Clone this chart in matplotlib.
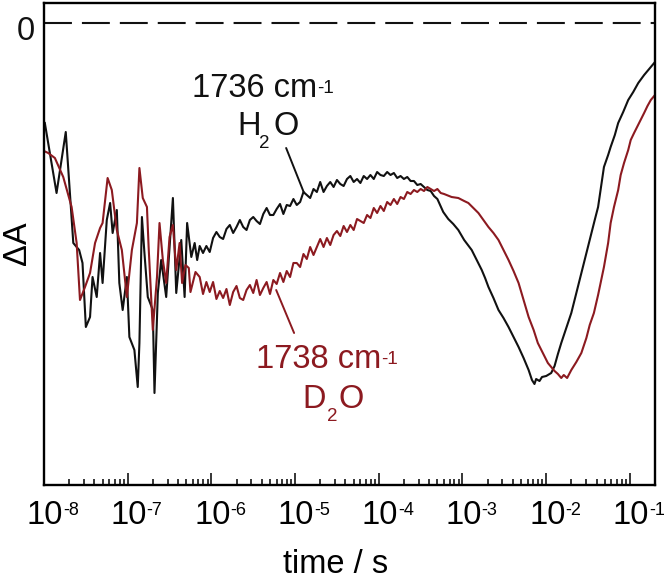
import numpy as np
import matplotlib.pyplot as plt
from matplotlib.ticker import LogLocator

plt.rcParams['font.family'] = 'Liberation Sans'

# log10(time / s) and dA (arb. units, 0 = baseline)
h2o_logt = [
    -7.99, -7.85, -7.74, -7.65, -7.58, -7.54, -7.50, -7.45, -7.42, -7.37,
    -7.33, -7.30, -7.25, -7.21, -7.18, -7.13, -7.10, -7.06, -7.01, -6.98,
    -6.92, -6.88, -6.86, -6.83, -6.80, -6.76, -6.70, -6.68, -6.64, -6.60,
    -6.54, -6.46, -6.42, -6.36, -6.32, -6.29, -6.24, -6.20, -6.17,
    -6.14, -6.10, -6.06, -6.02, -5.98, -5.94, -5.90, -5.86, -5.82, -5.78,
    -5.74, -5.70, -5.66, -5.62, -5.58, -5.54, -5.50, -5.46, -5.42, -5.38,
    -5.34, -5.30, -5.26, -5.22, -5.18, -5.14, -5.10, -5.06, -5.02, -4.98,
    -4.94, -4.90, -4.86, -4.82, -4.78, -4.74, -4.70, -4.66, -4.62, -4.58,
    -4.54, -4.50, -4.46, -4.42, -4.38, -4.34, -4.30, -4.26, -4.22, -4.18,
    -4.14, -4.10, -4.06, -4.02, -3.98, -3.94, -3.90, -3.86, -3.82, -3.78,
    -3.74, -3.70, -3.66, -3.62, -3.58, -3.54, -3.50, -3.46, -3.42, -3.38,
    -3.34, -3.30,
    -3.23, -3.17, -3.11, -3.05, -2.98, -2.89, -2.83, -2.77, -2.73, -2.69,
    -2.63, -2.57, -2.51, -2.45, -2.39, -2.33, -2.27, -2.21, -2.17, -2.14,
    -2.12, -2.08, -2.05, -2.00, -1.96, -1.94, -1.90, -1.86, -1.82, -1.76,
    -1.70, -1.64, -1.58, -1.52, -1.46, -1.42, -1.38, -1.35, -1.31, -1.26,
    -1.23, -1.18, -1.14, -1.08, -1.02, -0.96, -0.90, -0.83, -0.75, -0.70,
]
h2o_dA = [
    -10.0, -17.0, -10.9, -22.0, -22.7, -24.0, -30.4, -29.4, -25.4, -27.4,
    -23.0, -26.0, -19.7, -18.0, -21.0, -18.7, -26.0, -28.7, -25.4, -31.4,
    -32.7, -36.4, -32.0, -19.4, -23.0, -27.4, -28.7, -37.0, -27.0, -23.7,
    -27.4, -17.5, -27.0, -21.7, -27.4, -20.0, -23.4, -22.0, -23.7,
    -22.3, -23.0, -22.3, -22.9, -21.5, -20.9, -21.4, -21.6, -20.6, -20.2,
    -21.0, -20.4, -19.7, -20.4, -20.7, -19.7, -19.4, -19.8, -20.1, -19.1,
    -18.5, -19.2, -19.2, -18.6, -18.1, -19.1, -18.2, -18.3, -17.6, -18.2,
    -17.9, -16.9, -17.2, -17.5, -16.6, -16.9, -15.9, -16.9, -16.3, -15.9,
    -16.4, -15.7, -16.1, -16.3, -15.6, -15.3, -15.9, -15.6, -16.0, -15.3,
    -15.6, -15.2, -15.6, -14.9, -15.2, -15.3, -14.9, -15.2, -15.0, -15.5,
    -15.3, -15.6, -15.4, -15.8, -15.8, -16.2, -16.1, -16.4, -16.7, -16.8,
    -17.3, -17.6,
    -18.9, -19.6, -20.1, -20.7, -21.7, -22.7, -23.7, -24.7, -25.5, -26.4,
    -27.5, -28.7, -29.5, -30.4, -31.4, -32.4, -33.5, -34.7, -35.7, -36.1,
    -35.6, -35.8, -35.4, -35.3, -35.1, -35.0, -34.3, -33.1, -32.0, -30.5,
    -29.0, -27.0, -25.0, -23.0, -21.0, -19.7, -18.4, -16.7, -14.4, -13.2,
    -12.4, -11.2, -10.0, -8.9, -7.7, -6.9, -6.0, -5.2, -4.4, -3.9,
]

d2o_logt = [
    -8.00, -7.95, -7.87, -7.77, -7.67, -7.61, -7.57, -7.51, -7.45, -7.39,
    -7.33, -7.30, -7.24, -7.19, -7.13, -7.07, -7.01, -6.95, -6.89, -6.86,
    -6.82, -6.77, -6.75, -6.70, -6.65, -6.62, -6.58, -6.54, -6.50, -6.46,
    -6.42, -6.38, -6.35, -6.31, -6.27, -6.25, -6.19, -6.14,
    -6.10, -6.06, -6.02, -5.98, -5.94, -5.90, -5.86, -5.82, -5.78, -5.74,
    -5.70, -5.66, -5.62, -5.58, -5.54, -5.50, -5.46, -5.42, -5.38, -5.34,
    -5.30, -5.26, -5.22, -5.18, -5.14, -5.10, -5.06, -5.02, -4.98, -4.94,
    -4.90, -4.86, -4.82, -4.78, -4.74, -4.70, -4.66, -4.62, -4.58, -4.54,
    -4.50, -4.46, -4.42, -4.38, -4.34, -4.30, -4.26, -4.22, -4.18, -4.14,
    -4.10, -4.06, -4.02, -3.98, -3.94, -3.90, -3.86, -3.82, -3.78, -3.74,
    -3.70, -3.66, -3.62, -3.58, -3.54, -3.50, -3.46, -3.42, -3.38, -3.34,
    -3.30, -3.26, -3.22,
    -3.13, -3.05, -2.98, -2.93, -2.87, -2.81, -2.75, -2.69, -2.63, -2.57,
    -2.51, -2.45, -2.39, -2.33, -2.27, -2.21, -2.15, -2.10, -2.04, -1.98,
    -1.94, -1.90, -1.86, -1.82, -1.79, -1.75, -1.70, -1.64, -1.58, -1.52,
    -1.48, -1.43, -1.38, -1.35, -1.31, -1.26, -1.23, -1.19, -1.14, -1.11,
    -1.07, -1.02, -0.99, -0.95, -0.89, -0.83, -0.79, -0.75, -0.70,
]
d2o_dA = [
    -12.8, -13.0, -13.5, -15.4, -18.4, -22.0, -27.7, -26.4, -25.0, -22.0,
    -20.5, -20.0, -15.5, -16.7, -20.7, -22.7, -27.4, -22.7, -20.0, -14.5,
    -17.5, -18.4, -22.4, -30.7, -25.4, -20.0, -23.7, -26.0, -21.4, -20.2,
    -24.7, -22.0, -26.0, -24.2, -24.5, -26.9, -24.9, -25.4,
    -27.1, -25.9, -26.9, -25.9, -27.6, -26.8, -27.5, -26.6, -28.2, -26.9,
    -26.3, -27.5, -27.7, -26.7, -26.2, -27.0, -25.7, -27.2, -26.5, -25.9,
    -27.1, -25.7, -26.1, -25.0, -25.9, -24.8, -25.4, -24.0, -24.0, -24.4,
    -23.1, -23.6, -22.4, -23.2, -22.4, -21.6, -22.4, -21.5, -22.2, -21.2,
    -20.8, -21.3, -20.3, -20.9, -20.2, -20.7, -19.6, -19.8, -20.0, -19.2,
    -19.5, -18.5, -19.0, -18.3, -18.8, -17.9, -18.2, -17.6, -18.1, -17.4,
    -17.6, -16.9, -17.1, -16.7, -16.9, -16.6, -16.8, -16.4, -16.6, -16.8,
    -16.6, -17.0, -17.1,
    -17.4, -17.5, -17.8, -18.0, -18.5, -19.0, -19.7, -20.4, -21.0, -21.7,
    -22.7, -23.7, -24.8, -26.0, -27.7, -29.4, -30.7, -32.0, -33.0, -34.0,
    -34.4, -34.8, -35.1, -35.5, -35.2, -35.5, -34.7, -33.9, -33.0, -31.5,
    -30.2, -29.0, -27.2, -26.0, -24.4, -22.0, -20.0, -18.4, -16.7, -15.2,
    -14.0, -12.7, -11.7, -11.0, -10.0, -9.0, -8.3, -7.7, -7.2,
]

decades = [-8, -7, -6, -5, -4, -3, -2, -1]

RED = '#8c1a20'
INK = '#111111'
BIG, SMALL = 23.5, 13.5
W, H = 666, 584

fig = plt.figure(figsize=(W / 100, H / 100), dpi=100)
ax = fig.add_axes([44 / W, 1 - 485 / H, (655 - 44) / W, (485 - 3) / H])

ax.plot(10.0 ** np.array(h2o_logt), h2o_dA, color=INK, lw=1.5)
ax.plot(10.0 ** np.array(d2o_logt), d2o_dA, color=RED, lw=1.5)
ax.axhline(0, color=INK, lw=1.5, dashes=(13.4, 4.8))

ax.set_xscale('log')
ax.set_xlim(1e-8, 10 ** -0.70)
ax.set_ylim(-46.2, 2.0)
ax.xaxis.set_major_locator(LogLocator(base=10, numticks=20))
ax.xaxis.set_minor_locator(LogLocator(base=10, subs=np.arange(2, 10), numticks=20))
ax.tick_params(axis='x', which='major', direction='in', length=9, width=1.1,
               labelbottom=False)
ax.tick_params(axis='x', which='minor', direction='in', length=4.5, width=1.1,
               labelbottom=False)
ax.set_yticks([])
for s in ax.spines.values():
    s.set_linewidth(1.7)

# tick labels: "10" centred on the tick, exponent as a small raised text
for d in decades:
    t = 10.0 ** d
    ax.annotate('10', xy=(t, 0), xycoords=('data', 'axes fraction'),
                xytext=(1, -15), textcoords='offset pixels', ha='center', va='top',
                fontsize=BIG, annotation_clip=False)
    ax.annotate(str(d), xy=(t, 0), xycoords=('data', 'axes fraction'),
                xytext=(19, -17), textcoords='offset pixels', ha='left', va='top',
                fontsize=13, annotation_clip=False)


def px_text(x, y, s, size, color=INK, **kw):
    fig.text(x / W, 1 - y / H, s, fontsize=size, color=color,
             ha='left', va='baseline', **kw)


px_text(17, 40, '0', BIG)
fig.text(26 / W, 1 - 243 / H, 'ΔA', fontsize=BIG, rotation=90,
         rotation_mode='anchor', ha='center', va='baseline')
fig.text(335.5 / W, 1 - 573 / H, 'time / s', fontsize=BIG, ha='center', va='baseline')

# H2O label
px_text(191.5, 97, '1736 cm', BIG)
px_text(317.5, 93, '-1', SMALL)
px_text(237.5, 135, 'H', BIG)
px_text(259.5, 148, '2', SMALL)
px_text(273.5, 135, 'O', BIG)

# D2O label
px_text(256.5, 368, '1738 cm', BIG, RED)
px_text(381, 364, '-1', SMALL, RED)
px_text(302.5, 408, 'D', BIG, RED)
px_text(326.5, 421, '2', SMALL, RED)
px_text(338.5, 408, 'O', BIG, RED)

# leader lines from the labels to the traces
ax.annotate('', xy=(10 ** -4.893, -17.0), xytext=(10 ** -5.107, -12.5),
            arrowprops=dict(arrowstyle='-', color=INK, lw=1.4, shrinkA=0, shrinkB=0))
ax.annotate('', xy=(10 ** -5.226, -26.7), xytext=(10 ** -5.012, -31.0),
            arrowprops=dict(arrowstyle='-', color=RED, lw=1.4, shrinkA=0, shrinkB=0))

fig.savefig('out.png', dpi=100, facecolor='white')
